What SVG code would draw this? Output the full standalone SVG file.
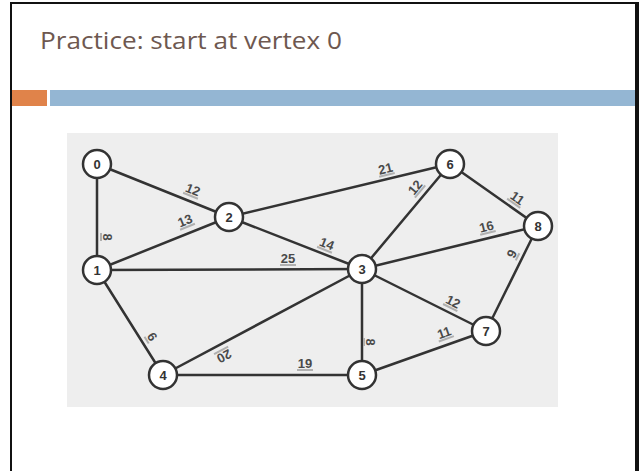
<svg xmlns="http://www.w3.org/2000/svg" width="639" height="471" viewBox="0 0 639 471">
  <style>
    .title { font-family: "Open Sans", "DejaVu Sans", sans-serif; font-size: 24px; fill: #6e5850; }
    .edge { stroke: #333; stroke-width: 2.5; fill: none; stroke-linecap: round; }
    .node circle { fill: #fff; stroke: #333; stroke-width: 2.5; }
    .node text { font-family: "Liberation Sans", Arial, sans-serif; font-size: 13px; font-weight: bold; fill: #333; text-anchor: middle; }
    .wt text { font-family: "Liberation Sans", Arial, sans-serif; font-size: 13px; font-weight: bold; fill: #4a4a4a; text-anchor: middle; }
    .wt rect { fill: #b0b0b0; }
  </style>

  <!-- slide background and frame -->
  <rect x="0" y="0" width="639" height="471" fill="#fff"/>
  <rect x="10" y="2" width="2" height="469" fill="#111"/>
  <rect x="10" y="2" width="629" height="2" fill="#111"/>
  <rect x="635" y="2" width="4" height="469" fill="#111"/>

  <!-- title -->
  <text class="title" x="40" y="49" textLength="302" lengthAdjust="spacingAndGlyphs">Practice: start at vertex 0</text>

  <!-- header bars -->
  <rect x="12" y="90" width="35" height="16" fill="#e0834a"/>
  <rect x="50" y="90" width="585" height="16" fill="#94b6d3"/>

  <!-- graph panel -->
  <rect x="67" y="133" width="491" height="274" fill="#eeeeee"/>

  <!-- connectors -->
  <g id="edges">
    <line class="edge" x1="97" y1="164" x2="97" y2="270"/>
    <line class="edge" x1="97" y1="164" x2="229" y2="217"/>
    <line class="edge" x1="97" y1="270" x2="229" y2="217"/>
    <line class="edge" x1="97" y1="270" x2="362" y2="269"/>
    <line class="edge" x1="97" y1="270" x2="163" y2="375"/>
    <line class="edge" x1="229" y1="217" x2="362" y2="269"/>
    <line class="edge" x1="229" y1="217" x2="450" y2="164"/>
    <line class="edge" x1="362" y1="269" x2="163" y2="375"/>
    <line class="edge" x1="362" y1="269" x2="362" y2="375"/>
    <line class="edge" x1="362" y1="269" x2="450" y2="164"/>
    <line class="edge" x1="362" y1="269" x2="486" y2="331"/>
    <line class="edge" x1="362" y1="269" x2="538" y2="226"/>
    <line class="edge" x1="163" y1="375" x2="362" y2="375"/>
    <line class="edge" x1="362" y1="375" x2="486" y2="331"/>
    <line class="edge" x1="450" y1="164" x2="538" y2="226"/>
    <line class="edge" x1="486" y1="331" x2="538" y2="226"/>

    <!-- edge weights, each sitting just above its edge -->
    <g class="wt" transform="translate(105,237) rotate(90)"><rect x="-4" y="3" width="8" height="2"/><text y="2">8</text></g>
    <g class="wt" transform="translate(192,192) rotate(22)"><rect x="-8" y="3" width="16" height="2"/><text y="2">12</text></g>
    <g class="wt" transform="translate(186,223) rotate(-22)"><rect x="-8" y="3" width="16" height="2"/><text y="2">13</text></g>
    <g class="wt" transform="translate(288,261)"><rect x="-8" y="3" width="16" height="2"/><text y="2">25</text></g>
    <g class="wt" transform="translate(150,338) rotate(58)"><rect x="-4" y="3" width="8" height="2"/><text y="2">6</text></g>
    <g class="wt" transform="translate(326,246) rotate(22)"><rect x="-8" y="3" width="16" height="2"/><text y="2">14</text></g>
    <g class="wt" transform="translate(386,171) rotate(-13.5)"><rect x="-8" y="3" width="16" height="2"/><text y="2">21</text></g>
    <g class="wt" transform="translate(223,354) rotate(152)"><rect x="-8" y="3" width="16" height="2"/><text y="2">20</text></g>
    <g class="wt" transform="translate(368,342) rotate(90)"><rect x="-4" y="3" width="8" height="2"/><text y="2">8</text></g>
    <g class="wt" transform="translate(417,189) rotate(-50)"><rect x="-8" y="3" width="16" height="2"/><text y="2">12</text></g>
    <g class="wt" transform="translate(452,304) rotate(26.6)"><rect x="-8" y="3" width="16" height="2"/><text y="2">12</text></g>
    <g class="wt" transform="translate(487,229) rotate(-13.7)"><rect x="-8" y="3" width="16" height="2"/><text y="2">16</text></g>
    <g class="wt" transform="translate(305,366)"><rect x="-8" y="3" width="16" height="2"/><text y="2">19</text></g>
    <g class="wt" transform="translate(445,335) rotate(-19.5)"><rect x="-8" y="3" width="16" height="2"/><text y="2">11</text></g>
    <g class="wt" transform="translate(516,200) rotate(35)"><rect x="-8" y="3" width="16" height="2"/><text y="2">11</text></g>
    <g class="wt" transform="translate(514,255) rotate(-63.7)"><rect x="-4" y="3" width="8" height="2"/><text y="2">9</text></g>
  </g>

  <!-- vertices -->
  <g id="node-0" class="node"><circle cx="97" cy="164" r="14"/><text x="97" y="169">0</text></g>
  <g id="node-1" class="node"><circle cx="97" cy="270" r="14"/><text x="97" y="275">1</text></g>
  <g id="node-2" class="node"><circle cx="229" cy="217" r="14"/><text x="229" y="222">2</text></g>
  <g id="node-3" class="node"><circle cx="362" cy="269" r="14"/><text x="362" y="274">3</text></g>
  <g id="node-4" class="node"><circle cx="163" cy="375" r="14"/><text x="163" y="380">4</text></g>
  <g id="node-5" class="node"><circle cx="362" cy="375" r="14"/><text x="362" y="380">5</text></g>
  <g id="node-6" class="node"><circle cx="450" cy="164" r="14"/><text x="450" y="169">6</text></g>
  <g id="node-7" class="node"><circle cx="486" cy="331" r="14"/><text x="486" y="336">7</text></g>
  <g id="node-8" class="node"><circle cx="538" cy="226" r="14"/><text x="538" y="231">8</text></g>
</svg>
